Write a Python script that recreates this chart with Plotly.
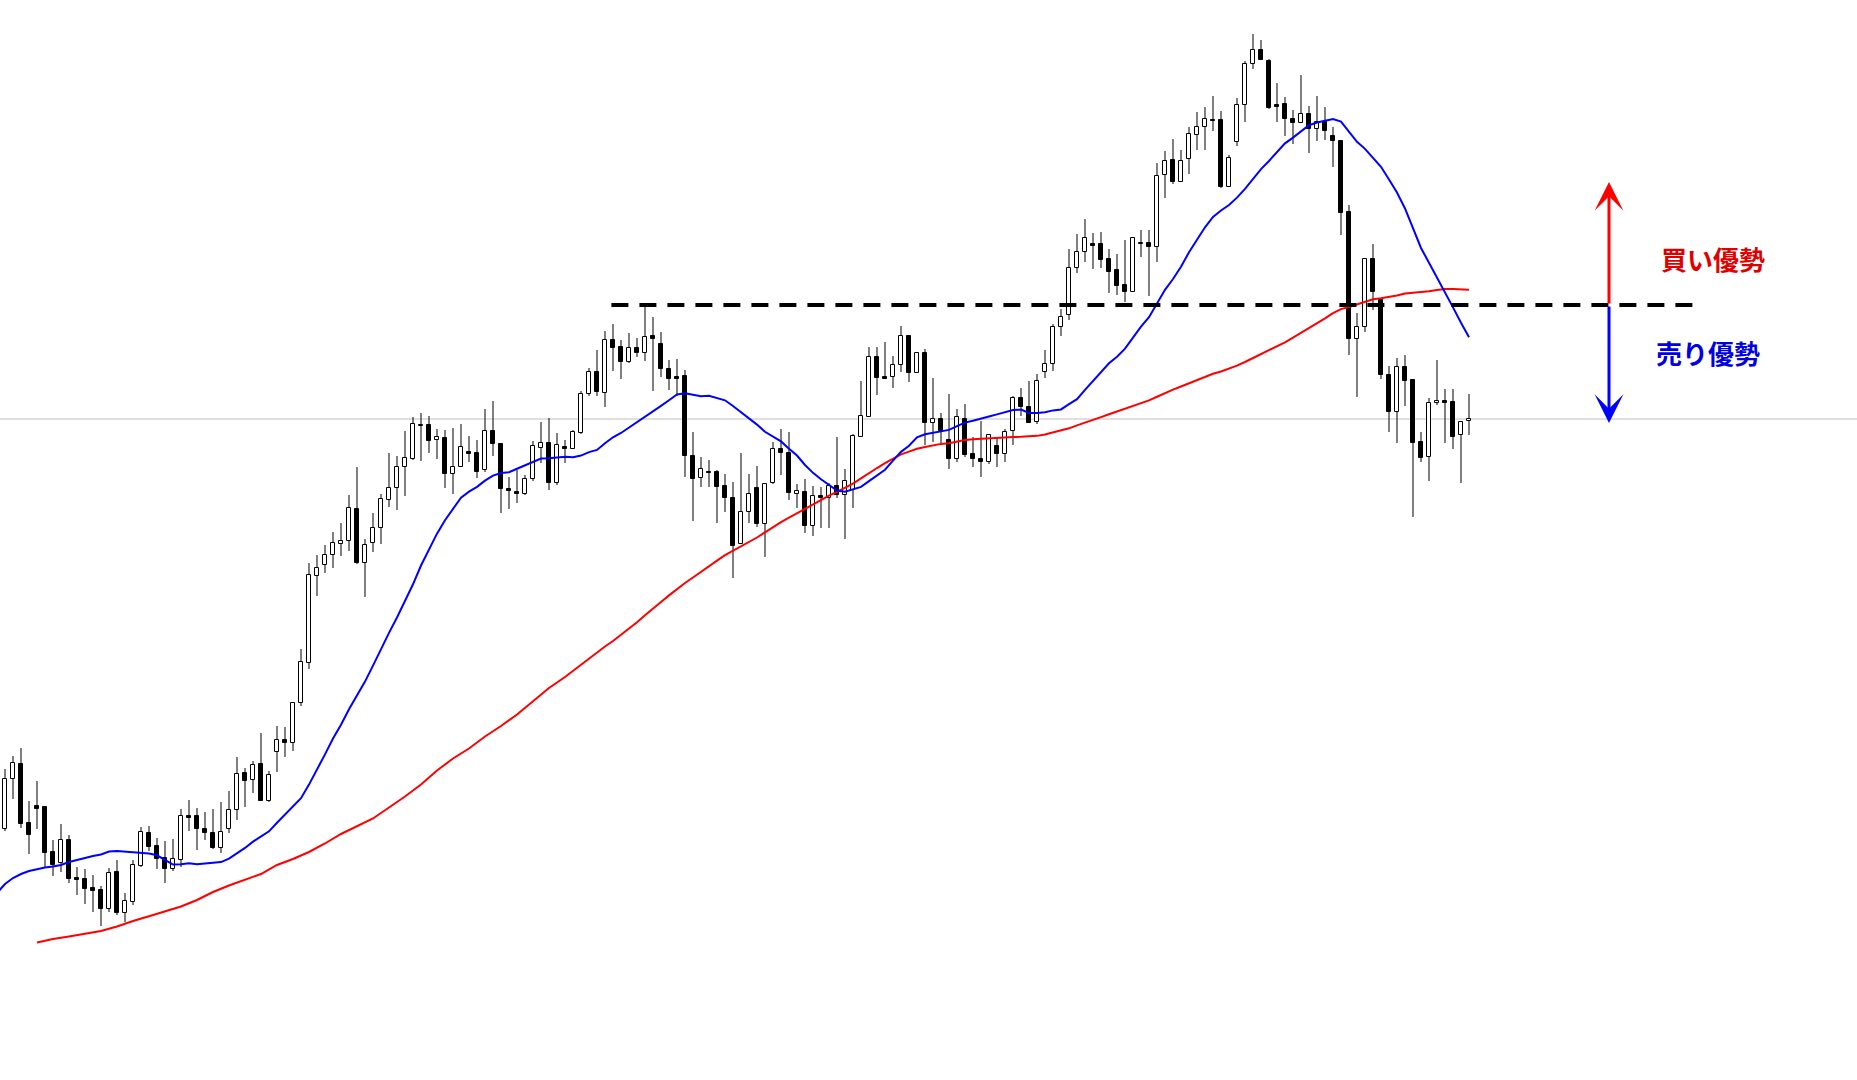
import numpy as np
import pandas as pd
import plotly.graph_objects as go

# ---------------- data (prices) ----------------
open_ = [101.71,102.21,102.36,101.77,101.94,101.93,101.48,101.37,101.60,101.22,
         101.21,101.12,101.10,100.91,101.28,100.87,100.98,101.34,101.67,101.54,
         101.42,101.31,101.40,101.84,101.84,101.71,101.67,101.52,101.71,101.90,
         102.27,102.20,102.36,101.99,102.48,102.60,102.57,102.97,103.37,104.24,
         104.35,104.45,104.56,104.59,104.91,104.37,104.57,104.72,105.00,105.12,
         105.33,105.41,105.74,105.75,105.60,105.62,105.26,105.33,105.48,105.47,
         105.30,105.69,105.56,105.11,105.08,105.06,105.21,105.52,105.57,105.17,
         105.53,105.51,105.67,106.06,106.28,106.07,106.60,106.53,106.38,106.52,
         106.47,106.64,106.56,106.31,106.23,106.24,105.44,105.22,105.28,105.28,
         105.14,105.02,104.56,104.88,105.12,104.76,105.17,105.51,105.47,105.06,
         105.08,104.74,105.04,105.02,105.14,105.05,105.10,105.63,105.83,106.43,
         106.23,106.23,106.35,106.64,106.27,106.47,105.77,105.81,105.60,105.41,
         105.81,105.46,105.41,105.38,105.54,105.46,105.69,106.02,105.93,105.78,
         106.28,106.36,106.73,106.85,107.32,107.48,107.56,107.56,107.41,107.30,
         107.15,107.08,107.56,107.57,107.53,108.25,108.40,108.18,108.41,108.65,
         108.73,108.80,108.80,108.13,108.58,108.95,109.36,109.50,109.39,108.95,
         108.96,108.81,108.77,108.86,108.71,108.78,108.64,108.59,107.88,106.61,
         106.73,107.41,107.00,106.25,105.88,106.33,106.20,105.58,105.43,105.97,
         105.99,105.98,105.65,105.79]
high = [102.31,102.44,102.52,101.99,102.19,101.93,101.60,101.76,101.65,101.33,
        101.31,101.25,101.14,101.32,101.40,101.07,101.40,101.73,101.74,101.62,
        101.59,101.61,101.91,102.00,101.92,101.88,101.91,101.98,102.09,102.43,
        102.32,102.39,102.67,102.29,102.74,102.73,102.98,103.51,104.37,104.45,
        104.55,104.68,104.77,105.05,105.33,104.61,104.87,105.06,105.47,105.44,
        105.69,105.83,105.87,105.84,105.71,105.70,105.72,105.76,105.64,105.60,
        105.91,105.99,105.56,105.23,105.30,105.25,105.59,105.78,105.82,105.67,
        105.60,105.70,106.09,106.32,106.50,106.69,106.76,106.60,106.67,106.62,
        106.93,106.83,106.68,106.40,106.41,106.30,105.68,105.43,105.40,105.30,
        105.26,105.18,105.47,105.26,105.34,105.17,105.58,105.71,105.68,105.16,
        105.21,105.14,105.13,105.17,105.63,105.31,105.66,106.19,106.53,106.53,
        106.58,106.44,106.74,106.65,106.47,106.51,106.22,105.87,106.06,105.91,
        105.96,105.63,105.79,105.66,105.63,105.71,106.04,106.12,106.19,106.26,
        106.50,106.76,106.91,107.51,107.66,107.81,107.67,107.68,107.51,107.46,
        107.60,107.62,107.70,107.70,108.37,108.49,108.61,108.50,108.73,108.88,
        108.93,109.04,108.89,108.45,109.02,109.39,109.66,109.60,109.41,109.17,
        109.03,108.90,109.25,108.94,109.04,108.93,108.73,108.59,107.95,106.87,
        107.41,107.56,107.00,106.34,106.42,106.45,106.20,105.68,106.02,106.40,
        106.11,106.11,105.78,106.06]
low = [101.69,102.01,101.72,101.46,101.71,101.33,101.24,101.28,101.17,101.05,
       100.96,100.88,100.74,100.88,100.85,100.78,100.95,101.33,101.49,101.31,
       101.17,101.29,101.33,101.69,101.50,101.60,101.51,101.47,101.67,101.80,
       101.93,102.07,101.99,101.98,102.28,102.43,102.49,102.94,103.31,104.04,
       104.27,104.32,104.44,104.49,104.36,104.03,104.48,104.56,104.93,104.90,
       105.04,105.40,105.39,105.47,105.41,105.12,105.06,105.33,105.38,105.22,
       105.28,105.44,104.87,104.91,104.97,105.05,105.19,105.37,105.10,105.15,
       105.37,105.51,105.66,106.04,106.04,105.93,106.29,106.21,106.37,106.43,
       106.39,106.09,106.23,106.10,106.04,105.23,104.79,105.13,105.13,104.77,
       104.88,104.22,104.56,104.77,104.73,104.43,105.16,105.25,105.00,104.92,
       104.67,104.64,104.72,104.72,105.02,104.61,104.92,105.63,105.83,106.05,
       106.21,106.12,106.28,106.18,106.27,105.55,105.58,105.57,105.31,105.38,
       105.43,105.33,105.23,105.36,105.33,105.38,105.55,105.84,105.77,105.76,
       106.22,106.29,106.64,106.80,107.27,107.38,107.31,107.32,107.07,107.05,
       106.98,107.08,107.43,107.04,107.38,108.02,108.16,108.18,108.26,108.50,
       108.50,108.69,108.12,108.13,108.54,108.78,109.31,109.40,108.91,108.78,
       108.64,108.56,108.77,108.47,108.59,108.60,108.33,107.65,106.45,106.03,
       106.68,106.90,106.21,105.68,105.57,105.94,104.83,105.38,105.19,105.95,
       105.57,105.51,105.17,105.65]
close = [102.21,102.37,101.76,101.65,101.91,101.47,101.35,101.60,101.21,101.20,
         101.11,101.09,100.91,101.27,100.87,100.99,101.35,101.68,101.53,101.41,
         101.31,101.41,101.84,101.82,101.71,101.67,101.52,101.68,101.90,102.26,
         102.19,102.35,101.99,102.25,102.60,102.57,102.97,103.38,104.25,104.32,
         104.45,104.57,104.59,104.92,104.37,104.55,104.72,105.01,105.12,105.33,
         105.42,105.76,105.75,105.59,105.63,105.26,105.33,105.53,105.46,105.28,
         105.69,105.56,105.11,105.09,105.06,105.21,105.54,105.57,105.17,105.55,
         105.51,105.68,106.06,106.28,106.08,106.60,106.52,106.38,106.52,106.47,
         106.63,106.61,106.31,106.21,106.21,105.44,105.21,105.31,105.27,105.13,
         105.02,104.54,104.88,105.06,104.76,105.16,105.51,105.47,105.07,105.09,
         104.74,105.04,105.02,105.14,105.05,105.19,105.64,105.84,106.43,106.22,
         106.21,106.35,106.64,106.27,106.47,105.77,105.81,105.69,105.41,105.83,
         105.45,105.41,105.38,105.65,105.46,105.68,106.02,105.93,105.77,106.19,
         106.36,106.73,106.83,107.32,107.48,107.62,107.54,107.40,107.28,107.14,
         107.08,107.62,107.57,107.53,108.24,108.39,108.18,108.39,108.66,108.73,
         108.81,108.79,108.13,108.42,108.95,109.36,109.50,109.40,108.92,108.93,
         108.81,108.77,108.86,108.71,108.78,108.69,108.59,107.87,106.61,106.73,
         107.41,107.08,106.25,105.88,106.33,106.19,105.57,105.42,105.97,105.99,
         105.97,105.63,105.78,105.81]

# moving-average values before enough history is visible
ma20_lead_idx = list(range(0, 20))
ma20_lead = [101.07,101.16,101.22,101.26,101.29,101.31,101.325,101.335,101.35,101.38,
             101.40,101.425,101.44,101.455,101.485,101.49,101.485,101.475,101.475,101.465]
ma75_lead_idx = list(range(5, 75, 2))
ma75_lead = [100.575,100.61,100.635,100.66,100.69,100.735,100.79,100.837,100.888,100.935,
             101.00,101.08,101.145,101.20,101.26,101.35,101.41,101.48,101.565,101.66,
             101.74,101.815,101.925,102.035,102.155,102.295,102.415,102.515,102.635,102.74,
             102.855,102.983,103.12,103.23,103.355]

level = 106.95          # resistance/support level (dashed)
buy_tip = 108.18
sell_tip = 105.77
buy_label = "買い優勢"
sell_label = "売り優勢"

# ---------------- derived ----------------
n = len(close)
idx = np.arange(1, n + 1)
o = np.array(open_); h = np.array(high); l = np.array(low); c = np.array(close)
sma20 = pd.Series(c).rolling(20).mean().values
sma75 = pd.Series(c).rolling(75).mean().values

blue_x = ma20_lead_idx + list(idx[19:])
blue_y = ma20_lead + list(sma20[19:])
red_x = ma75_lead_idx + list(idx[74:])
red_y = ma75_lead + list(sma75[74:])

body_lo = np.minimum(o, c)
body_hi = np.maximum(o, c)
colors = ["#ffffff" if cc > oo else "#000000" for oo, cc in zip(o, c)]

wx, wy = [], []
for i in range(n):
    if h[i] > body_hi[i]:
        wx += [idx[i], idx[i], None]; wy += [h[i], body_hi[i], None]
    if l[i] < body_lo[i]:
        wx += [idx[i], idx[i], None]; wy += [body_lo[i], l[i], None]

fig = go.Figure()
fig.add_trace(go.Bar(x=idx, y=body_hi - body_lo, base=body_lo, width=0.45,
                     marker=dict(color=colors, line=dict(color="#000000", width=1)),
                     hoverinfo="skip", showlegend=False))
fig.add_trace(go.Scatter(x=wx, y=wy, mode="lines", line=dict(color="#000000", width=1),
                         hoverinfo="skip", showlegend=False))
fig.add_trace(go.Scatter(x=red_x, y=red_y, mode="lines", line=dict(color="#ff0000", width=2),
                         hoverinfo="skip", showlegend=False))
fig.add_trace(go.Scatter(x=blue_x, y=blue_y, mode="lines", line=dict(color="#0000ff", width=2),
                         hoverinfo="skip", showlegend=False))

# current price line
fig.add_shape(type="line", xref="paper", x0=0, x1=1, yref="y", y0=close[-1], y1=close[-1],
              line=dict(color="#c0c0c0", width=1), layer="below")
# dashed level
fig.add_shape(type="line", xref="x", x0=76.8, x1=212, yref="y", y0=level, y1=level,
              line=dict(color="#000000", width=4, dash="17px,11px"))

ARROW_X = 201.5
fig.add_annotation(x=ARROW_X, y=buy_tip, ax=ARROW_X, ay=level, xref="x", yref="y",
                   axref="x", ayref="y", showarrow=True, arrowhead=3, arrowsize=1.6,
                   arrowwidth=3, arrowcolor="#ff0000", text="")
fig.add_annotation(x=ARROW_X, y=sell_tip, ax=ARROW_X, ay=level, xref="x", yref="y",
                   axref="x", ayref="y", showarrow=True, arrowhead=3, arrowsize=1.6,
                   arrowwidth=3, arrowcolor="#0000ff", text="")
fig.add_annotation(x=214.5, y=107.42, xref="x", yref="y", showarrow=False,
                   text="<b>" + buy_label + "</b>",
                   font=dict(family="Noto Sans CJK JP", size=26, color="#e00000"))
fig.add_annotation(x=213.9, y=106.48, xref="x", yref="y", showarrow=False,
                   text="<b>" + sell_label + "</b>",
                   font=dict(family="Noto Sans CJK JP", size=26, color="#0000e0"))

fig.update_layout(
    width=1857, height=1080, margin=dict(l=0, r=0, t=0, b=0),
    paper_bgcolor="#ffffff", plot_bgcolor="#ffffff",
    xaxis=dict(range=[0.375, 232.5], visible=False, showgrid=False, zeroline=False),
    yaxis=dict(range=[99.2, 110.0], visible=False, showgrid=False, zeroline=False),
    bargap=0, showlegend=False, hovermode=False,
)

fig.write_html("out.html", config={"displayModeBar": False},
               post_script="document.body.style.margin='0';document.body.style.overflow='hidden';")
